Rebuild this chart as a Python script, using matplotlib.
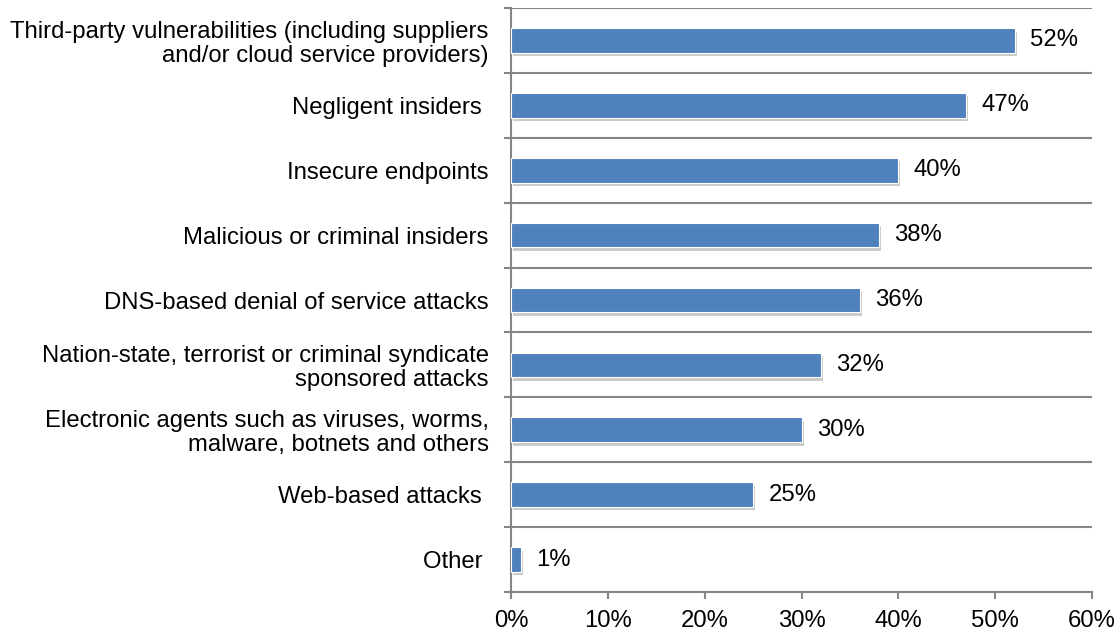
import matplotlib
matplotlib.use("Agg")
import matplotlib.pyplot as plt
import matplotlib.patheffects as pe
import numpy as np

categories = [
    "Third-party vulnerabilities (including suppliers\nand/or cloud service providers)",
    "Negligent insiders ",
    "Insecure endpoints",
    "Malicious or criminal insiders",
    "DNS-based denial of service attacks",
    "Nation-state, terrorist or criminal syndicate\nsponsored attacks",
    "Electronic agents such as viruses, worms,\nmalware, botnets and others",
    "Web-based attacks ",
    "Other ",
]
values = [52, 47, 40, 38, 36, 32, 30, 25, 1]
xticks = [0, 10, 20, 30, 40, 50, 60]

plt.rcParams["font.family"] = ["Liberation Sans", "DejaVu Sans"]
grey = "#868686"
fs = 17.2

fig = plt.figure(figsize=(11.2, 6.32), dpi=100)
ax = fig.add_axes([0.4563, 0.0633, 0.975 - 0.4563, 0.9873 - 0.0633])

y = np.arange(len(categories))
bars = ax.barh(y, values, height=0.38, color="#4F81BD", edgecolor="white",
               linewidth=0.8, zorder=3)
for b in bars:
    b.set_path_effects([pe.SimplePatchShadow(offset=(1.5, -2.5),
                                             shadow_rgbFace="#7f7f7f", alpha=0.4),
                        pe.Normal()])

for yi, v in zip(y, values):
    ax.annotate(f"{v}%", (v, yi), xytext=(11, 0), textcoords="offset points",
                va="center", ha="left", fontsize=fs, color="black")

ax.set_xlim(0, 60)
ax.set_ylim(len(categories) - 0.5, -0.5)

ax.set_xticks(xticks)
ax.set_xticklabels([f"{t}%" for t in xticks], fontsize=fs)
ax.set_yticks(y)
ax.set_yticklabels(categories, fontsize=fs, linespacing=1.1)
ax.set_yticks(np.arange(len(categories) + 1) - 0.5, minor=True)

ax.tick_params(axis="y", which="major", length=0, pad=16)
ax.tick_params(axis="y", which="minor", length=5, color=grey, width=1.5)
ax.tick_params(axis="x", length=5, color=grey, width=1.5, pad=8)

ax.grid(axis="y", which="minor", color=grey, linewidth=1.5, zorder=0)

for s in ["top", "right"]:
    ax.spines[s].set_visible(False)
for s in ["left", "bottom"]:
    ax.spines[s].set_color(grey)
    ax.spines[s].set_linewidth(1.5)

fig.savefig("out.png", dpi=100)
